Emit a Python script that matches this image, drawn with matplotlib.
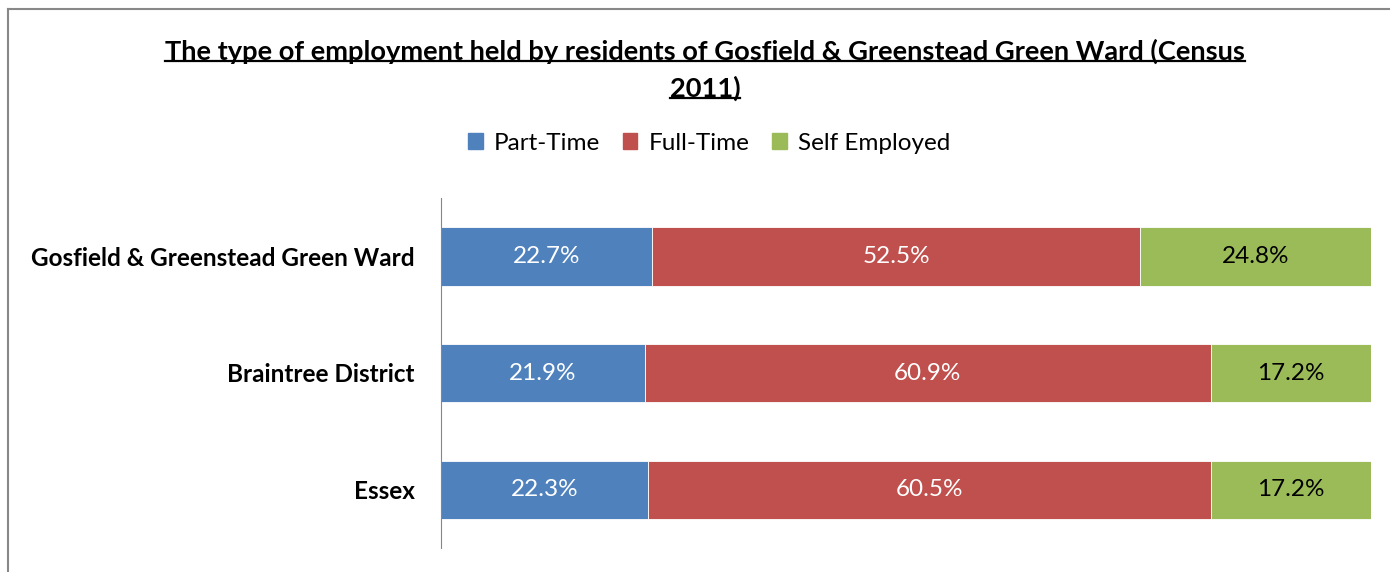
import matplotlib
matplotlib.use("Agg")
import matplotlib.pyplot as plt
from matplotlib.lines import Line2D
from matplotlib.patches import Patch
import numpy as np

plt.rcParams['font.family'] = ['Lato', 'DejaVu Sans']

areas = ['Gosfield & Greenstead Green Ward', 'Braintree District', 'Essex']
part_time = [22.7, 21.9, 22.3]
full_time = [52.5, 60.9, 60.5]
self_emp = [24.8, 17.2, 17.2]
series = ['Part-Time', 'Full-Time', 'Self Employed']
colors = ['#4f81bd', '#c0504d', '#9bbb59']
label_colors = ['white', 'white', 'black']

fig = plt.figure(figsize=(13.9, 5.72), dpi=100)
ax = fig.add_axes([441/1390, 24/572, 930/1390, 350/572])

y = np.arange(len(areas))[::-1]
left = np.zeros(len(areas))
for vals, name, c, lc in zip([part_time, full_time, self_emp], series, colors, label_colors):
    bars = ax.barh(y, vals, left=left, height=0.5, color=c, edgecolor='white', linewidth=0.6, label=name)
    for b, v in zip(bars, vals):
        ax.text(b.get_x() + b.get_width()/2, b.get_y() + b.get_height()/2, f'{v:.1f}%',
                ha='center', va='center', color=lc, fontsize=17.5)
    left += np.array(vals)

ax.set_xlim(0, 100)
ax.set_ylim(-0.5, 2.5)
ax.set_yticks(y)
ax.set_yticklabels(areas, fontsize=17.5, fontweight='bold')
ax.tick_params(axis='y', length=0, pad=19)
ax.set_xticks([])
for s in ['top', 'right', 'bottom']:
    ax.spines[s].set_visible(False)
ax.spines['left'].set_color('#868686')

# chart border (top and left)
fig.add_artist(Line2D([8/1390, 8/1390], [0, 1 - 9/572], color='#888888', lw=1.5))
fig.add_artist(Line2D([8/1390, 1], [1 - 9/572, 1 - 9/572], color='#888888', lw=1.5))

# title with underline
t1 = fig.text(705/1390, 1 - 51/572, 'The type of employment held by residents of Gosfield & Greenstead Green Ward (Census',
              ha='center', va='center', fontsize=19.6, fontweight='bold')
t2 = fig.text(705/1390, 1 - 88/572, '2011)', ha='center', va='center', fontsize=19.6, fontweight='bold')
fig.canvas.draw()
r = fig.canvas.get_renderer()
for t in (t1, t2):
    bb = t.get_window_extent(r).transformed(fig.transFigure.inverted())
    yl = bb.y0 + 0.004
    fig.add_artist(Line2D([bb.x0, bb.x1], [yl, yl], color='black', lw=1.6))

handles = [Patch(color=c) for c in colors]
fig.legend(handles, series, loc='center', bbox_to_anchor=(709/1390, 1 - 143/572), ncol=3,
           frameon=False, fontsize=17.5, handlelength=0.6, handleheight=0.6, handletextpad=0.45,
           columnspacing=0.95)

fig.savefig('out.png', dpi=100)
